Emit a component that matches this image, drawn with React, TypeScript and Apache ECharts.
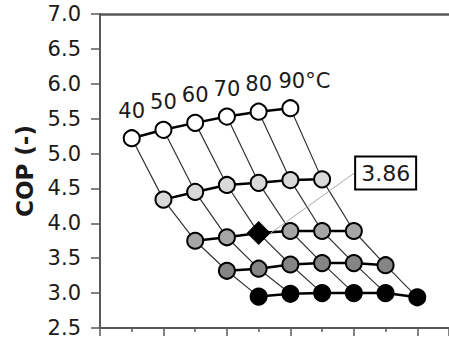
import React, { useEffect, useRef } from "react";
import * as echarts from "echarts";

// Temperature labels (one per column of points)
const temps = ["40", "50", "60", "70", "80", "90°C"];
// x position (axis units) where each row starts
const rowStart = [1, 2, 3, 4, 5];
// COP values, one row per series (top to bottom)
const row1 = [5.22, 5.34, 5.44, 5.53, 5.6, 5.65];
const row2 = [4.34, 4.45, 4.55, 4.58, 4.62, 4.63];
const row3 = [3.75, 3.8, 3.86, 3.89, 3.89, 3.89];
const row4 = [3.32, 3.35, 3.41, 3.43, 3.43, 3.4];
const row5 = [2.95, 2.99, 3.0, 3.0, 3.0, 2.94];
const rows = [row1, row2, row3, row4, row5];
const rowColors = ["#ffffff", "#d9d9d9", "#a6a6a6", "#858585", "#000000"];
// highlighted point (row index, column index)
const highlightRow = 2;
const highlightCol = 2;

const yTicks = { min: 2.5, max: 7.0, interval: 0.5 };
const FONT = "'DejaVu Sans', sans-serif";

export default function App() {
  const ref = useRef<HTMLDivElement>(null);
  useEffect(() => {
    document.body.style.margin = "0";
    if (!ref.current) return;
    const chart = echarts.init(ref.current, null, { renderer: "svg" });

    const diagSeries = temps.map((t, j) => ({
      type: "line",
      name: "diag" + t,
      data: rows.map((r, i) => [rowStart[i] + j, r[j]]),
      symbol: "none",
      lineStyle: { color: "#333", width: 1.2 },
      z: 1,
      silent: true,
    }));

    const rowSeries = rows.map((r, i) => ({
      type: "line",
      name: "row" + i,
      data: r.map((v, j) => {
        const item: any = { value: [rowStart[i] + j, v] };
        if (i === highlightRow && j === highlightCol) item.symbol = "none";
        if (i === 0 && j === temps.length - 1) item.label = { offset: [14, 0] };
        return item;
      }),
      symbol: "circle",
      symbolSize: 16,
      itemStyle: { color: rowColors[i], borderColor: "#000", borderWidth: 2 },
      lineStyle: { color: "#000", width: 2.5 },
      z: 3,
      label:
        i === 0
          ? {
              show: true,
              position: "top",
              distance: 8,
              formatter: (p: any) => temps[p.dataIndex],
              fontSize: 21,
              fontFamily: FONT,
              color: "#1a1a1a",
            }
          : { show: false },
    }));

    const hv = rows[highlightRow][highlightCol];
    const highlight = {
      type: "scatter",
      name: "highlight",
      data: [[rowStart[highlightRow] + highlightCol, hv]],
      symbol: "diamond",
      symbolSize: 24,
      itemStyle: { color: "#000", opacity: 1 },
      z: 5,
      label: {
        show: true,
        position: "inside",
        formatter: (p: any) => p.value[1].toFixed(2),
        fontSize: 22,
        fontFamily: FONT,
        color: "#1a1a1a",
        backgroundColor: "#fff",
        borderColor: "#000",
        borderWidth: 2,
        padding: [5, 5, 4, 5],
        opacity: 1,
      },
      labelLayout: { dx: 127, dy: -60 },
      labelLine: { show: true, lineStyle: { color: "#aaa", width: 1, opacity: 1 } },
    };

    chart.setOption({
      animation: false,
      backgroundColor: "#fff",
      grid: { left: 100, top: 14, right: -3, bottom: 11 },
      xAxis: [
        {
          type: "value",
          min: 0,
          max: 11,
          interval: 2,
          axisLine: { show: true, lineStyle: { color: "#595959", width: 2 } },
          axisTick: { show: true, length: 8, lineStyle: { color: "#595959", width: 1.5 } },
          minorTick: { show: true, splitNumber: 2, length: 4, lineStyle: { color: "#595959", width: 1.5 } },
          axisLabel: { show: false },
          splitLine: { show: false },
        },
        {
          type: "value",
          position: "top",
          min: 0,
          max: 11,
          interval: 2,
          axisLine: { show: true, lineStyle: { color: "#595959", width: 2.5 } },
          axisTick: { show: false },
          axisLabel: { show: false },
          splitLine: { show: false },
        },
      ],
      yAxis: {
        type: "value",
        min: yTicks.min,
        max: yTicks.max,
        interval: yTicks.interval,
        name: "COP (-)",
        nameLocation: "middle",
        nameGap: 62,
        nameTextStyle: { fontSize: 23, fontWeight: "bold", fontFamily: FONT, color: "#1a1a1a" },
        axisLine: { show: true, lineStyle: { color: "#595959", width: 2 } },
        axisTick: { show: true, length: 9, lineStyle: { color: "#595959", width: 1.5 } },
        axisLabel: {
          formatter: (v: number) => v.toFixed(1),
          fontSize: 21,
          fontFamily: FONT,
          color: "#1a1a1a",
          margin: 19,
        },
        splitLine: { show: false },
      },
      series: [...diagSeries, ...rowSeries, highlight],
    });
    return () => chart.dispose();
  }, []);
  return <div ref={ref} style={{ width: 449, height: 339 }} />;
}
